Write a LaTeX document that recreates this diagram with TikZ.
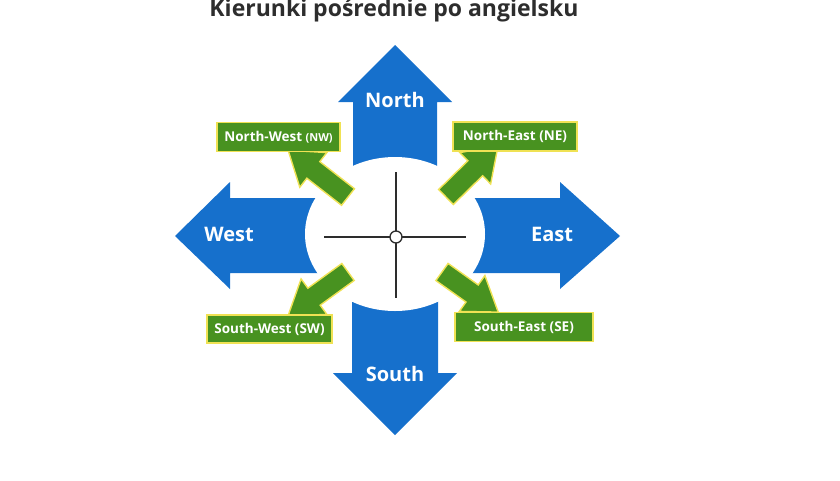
\documentclass[tikz,border=0pt]{standalone}
\usepackage{fontspec}
\setmainfont{Open Sans}
\usetikzlibrary{positioning}

\definecolor{dirblue}{RGB}{22,112,204}
\definecolor{dirgreen}{RGB}{72,146,32}
\definecolor{diryellow}{RGB}{240,226,84}
\definecolor{titlegray}{RGB}{45,45,45}

\tikzset{
  bigarrow/.style={fill=dirblue,draw=none},
  greenbox/.style={fill=dirgreen,draw=diryellow,line width=1.4pt,text=white,
    font=\fontsize{13.5}{15}\selectfont\bfseries,minimum height=29pt,inner sep=2pt},
  greenarrow/.style={fill=dirgreen,draw=diryellow,line width=1.4pt,line join=miter},
  dirlabel/.style={text=white,font=\fontsize{20}{22}\selectfont\bfseries}
}

\begin{document}
\begin{tikzpicture}[x=1pt,y=-1pt]
\useasboundingbox (0,0) rectangle (840,480);

\node[anchor=base,text=titlegray,font=\fontsize{23}{25}\selectfont\bfseries] (title) at (394,16) {Kierunki pośrednie po angielsku};

% blue main arrows
\path[bigarrow] (353,200) -- (353,102) -- (338,102) -- (395,45) -- (452,102) -- (437,102) -- (437,200) -- cycle;
\path[bigarrow] (352,270) -- (352,373) -- (333,373) -- (395,435) -- (457,373) -- (438,373) -- (438,270) -- cycle;
\path[bigarrow] (350,198) -- (230,198) -- (230,182) -- (175,236) -- (230,289) -- (230,273) -- (350,273) -- cycle;
\path[bigarrow] (440,198) -- (560,198) -- (560,182) -- (620,236) -- (560,289) -- (560,273) -- (440,273) -- cycle;
\fill[white] (395,234) ellipse [x radius=90, y radius=77];

\node[dirlabel] (N) at (395,100) {North};
\node[dirlabel] (S) at (395,374) {South};
\node[dirlabel] (W) at (229,234) {West};
\node[dirlabel] (E) at (552,234) {East};

% green arrows: tail x, tail y, angle, length
\foreach \tx/\ty/\ang/\len in {348/197/142/76, 446/197/44.5/73, 348/272/216/74, 442/272/-35.5/69}{
  \begin{scope}[shift={(\tx,\ty)},rotate=\ang]
    \path[greenarrow] (0,-10.5) -- (\len-32,-10.5) -- (\len-32,-22) -- (\len,0) -- (\len-32,22) -- (\len-32,10.5) -- (0,10.5) -- cycle;
  \end{scope}
}

\node[greenbox,minimum width=123pt] (NW) at (278.5,137) {North-West {\fontsize{11}{12}\selectfont(NW)}};
\node[greenbox,minimum width=124pt] (NE) at (515,136.5) {North-East (NE)};
\node[greenbox,minimum width=125pt,minimum height=28pt] (SW) at (269.5,329) {South-West (SW)};
\node[greenbox,minimum width=138pt] (SE) at (524,327) {South-East (SE)};

% compass cross
\coordinate (c) at (396,237);
\draw[line width=1.3pt,titlegray] (324,237) -- (466,237);
\draw[line width=1.3pt,titlegray] (396,172) -- (396,298);
\node[circle,draw=titlegray,fill=white,line width=1.3pt,minimum size=12pt,inner sep=0pt] (mid) at (c) {};
\end{tikzpicture}
\end{document}
